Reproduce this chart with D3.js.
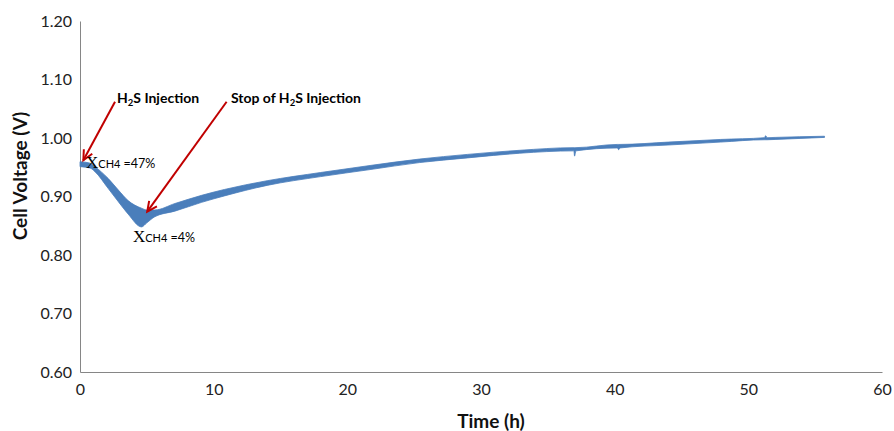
<!DOCTYPE html>
<html><head><meta charset="utf-8">
<script src="https://cdn.jsdelivr.net/npm/d3@7"></script>
<style>body{margin:0;background:#fff}svg{display:block}</style>
</head><body>
<svg id="c" width="894" height="431"></svg>
<script>
// ---- data ----
const timeH  = [0, 0.75, 1.12, 2.1, 2.87, 3.6, 4.6, 5.0, 5.6, 7.1, 9.1, 10.8, 14, 18, 21.7, 25.4, 29, 32.9, 36.95, 37.0, 37.1, 40.2, 40.3, 40.4, 44, 47.9, 51.2, 51.3, 51.4, 52, 55.7];
const vUpper = [0.9595, 0.957, 0.951, 0.931, 0.911, 0.893, 0.880, 0.877, 0.877, 0.888, 0.902, 0.912, 0.927, 0.941, 0.953, 0.964, 0.972, 0.979, 0.9835, 0.9835, 0.9835, 0.989, 0.989, 0.989, 0.993, 0.9975, 1.0005, 1.004, 1.0005, 1.001, 1.003];
const vLower = [0.951, 0.9487, 0.9424, 0.914, 0.891, 0.870, 0.848, 0.855, 0.8655, 0.875, 0.890, 0.901, 0.919, 0.934, 0.946, 0.958, 0.966, 0.974, 0.978, 0.969, 0.978, 0.983, 0.980, 0.983, 0.988, 0.993, 0.997, 0.997, 0.997, 0.9975, 1.001];
const xTicks = [0, 10, 20, 30, 40, 50, 60];
const yTicks = [0.60, 0.70, 0.80, 0.90, 1.00, 1.10, 1.20];
const arrows = [
  {from: [2.62, 1.062], to: [0.25, 0.962]},
  {from: [10.97, 1.062], to: [5.03, 0.874]}
];
const injLabels = [
  {t: 2.77, v: 1.0606, pre: "H", sub: "2", post: "S Injection"},
  {t: 11.29, v: 1.0606, pre: "Stop of H", sub: "2", post: "S Injection"}
];
const xchLabels = [
  {t: 0.45, v: 0.948, text: "=47%"},
  {t: 3.96, v: 0.8227, text: "=4%"}
];

// ---- chart ----
const svg = d3.select("#c");
const x = d3.scaleLinear().domain([0, 60]).range([80, 882]);
const y = d3.scaleLinear().domain([0.6, 1.2]).range([372, 21]);
const font = "Lato, 'Open Sans', sans-serif";

// axes
const xAxis = svg.append("g").attr("transform", `translate(0,${y(0.6)})`)
  .call(d3.axisBottom(x).tickValues(xTicks).tickSize(0).tickPadding(12).tickFormat(d3.format("d")));
const yAxis = svg.append("g").attr("transform", `translate(${x(0)},0)`)
  .call(d3.axisLeft(y).tickValues(yTicks).tickSize(0).tickPadding(8).tickFormat(d3.format(".2f")));
[xAxis, yAxis].forEach(a => {
  a.select(".domain").attr("stroke", "#868686").attr("stroke-width", 1);
  a.selectAll("text").attr("font-family", font).attr("font-size", 16).attr("fill", "#222");
});

// axis titles
svg.append("text").attr("x", 491).attr("y", 428).attr("text-anchor", "middle")
  .attr("font-family", font).attr("font-weight", "bold").attr("font-size", 19).attr("fill", "#111")
  .text("Time (h)");
svg.append("text").attr("transform", "translate(27,176) rotate(-90)").attr("text-anchor", "middle")
  .attr("font-family", font).attr("font-weight", "bold").attr("font-size", 19).attr("fill", "#111")
  .text("Cell Voltage (V)");

// data band
const pts = timeH.map((t, i) => ({t, hi: vUpper[i], lo: vLower[i]}));
const area = d3.area().x(d => x(d.t)).y0(d => y(d.lo)).y1(d => y(d.hi)).curve(d3.curveMonotoneX);
svg.append("path").datum(pts).attr("d", area)
  .attr("fill", "#4a7ebb").attr("stroke", "#4a7ebb").attr("stroke-width", 0.8).attr("stroke-linejoin", "round");

// arrows
const red = "#c00000";
arrows.forEach(a => {
  const x1 = x(a.from[0]), y1 = y(a.from[1]), x2 = x(a.to[0]), y2 = y(a.to[1]);
  svg.append("line").attr("x1", x1).attr("y1", y1).attr("x2", x2).attr("y2", y2)
    .attr("stroke", red).attr("stroke-width", 2);
  const ang = Math.atan2(y2 - y1, x2 - x1), L = 11, w = 0.45;
  const p = [[x2 - L * Math.cos(ang - w), y2 - L * Math.sin(ang - w)], [x2, y2], [x2 - L * Math.cos(ang + w), y2 - L * Math.sin(ang + w)]];
  svg.append("path").attr("d", d3.line()(p)).attr("fill", "none").attr("stroke", red).attr("stroke-width", 2);
});

// injection labels
injLabels.forEach(l => {
  const t = svg.append("text").attr("x", x(l.t)).attr("y", y(l.v))
    .attr("font-family", font).attr("font-weight", "bold").attr("font-size", 14).attr("fill", "#000");
  t.append("tspan").text(l.pre);
  t.append("tspan").attr("font-size", 9.5).attr("dy", 3).text(l.sub);
  t.append("tspan").attr("dy", -3).text(l.post);
});

// X_CH4 labels
xchLabels.forEach(l => {
  const t = svg.append("text").attr("x", x(l.t)).attr("y", y(l.v)).attr("fill", "#000");
  t.append("tspan").attr("font-family", "'Liberation Serif', serif").attr("font-size", 17).text("X");
  t.append("tspan").attr("font-family", font).attr("font-size", 11).text("CH4");
  t.append("tspan").attr("font-family", font).attr("font-size", 12.5).text(" " + l.text);
});
</script>
</body></html>
